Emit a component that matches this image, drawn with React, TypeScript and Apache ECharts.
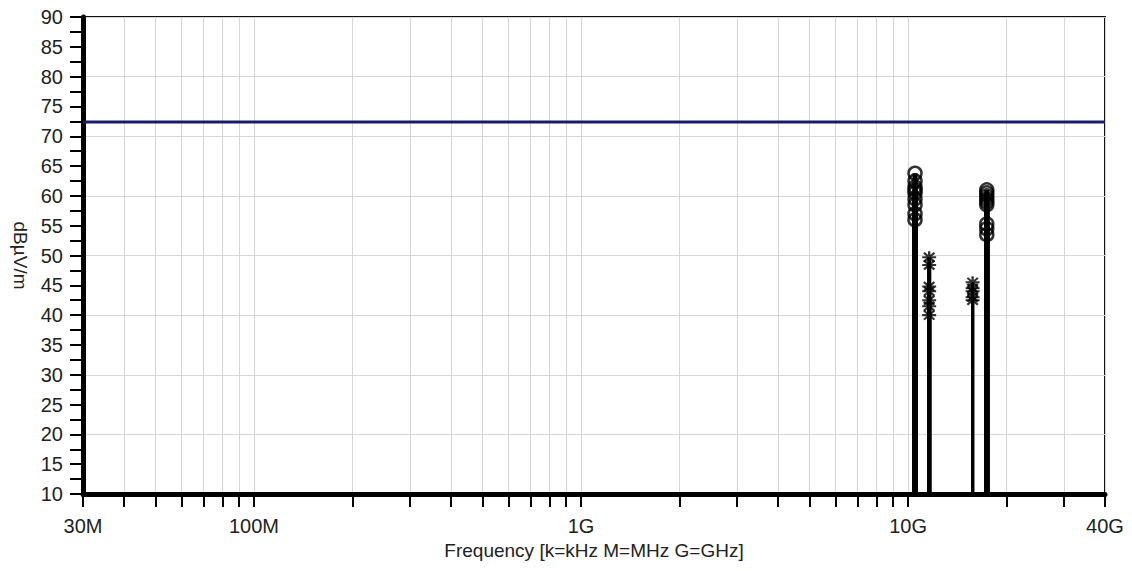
import React, { useEffect, useRef } from "react";
import * as echarts from "echarts";

// Frequency axis limits in Hz
const freqMinHz = 30e6;
const freqMaxHz = 40e9;

// Level axis limits in dBµV/m
const levelMin = 10;
const levelMax = 90;

// Frequencies that carry a tick label on the frequency axis (Hz)
const freqLabelHz = [30e6, 100e6, 1e9, 10e9, 40e9];

// Limit line
const limitFreqHz = [30e6, 40e9];
const limitLevel = [72.4, 72.4];

// Emissions drawn with circle markers (GHz, dBµV/m)
const circleFreqGHz = [10.5, 17.4];
const circleLevels = [
  [63.8, 62.5, 61.5, 61, 60.5, 59.5, 58.5, 57, 56],
  [61, 60.5, 60, 59.5, 59, 58.5, 55.3, 54.5, 53.5],
];

// Emissions drawn with asterisk markers (GHz, dBµV/m)
const starFreqGHz = [11.6, 15.75];
const starLevels = [
  [49.7, 48.4, 44.8, 44, 42.5, 41.5, 40],
  [45.5, 44.5, 44, 43, 42.5],
];

// Stem line widths, one per emission
const circleStemWidth = [5, 5];
const starStemWidth = [4, 3];

const FONT = "'Liberation Sans', Arial, sans-serif";

const ASTERISK =
  "path://M0 10L24 10L24 14L0 14Z" +
  "M10 0L14 0L14 24L10 24Z" +
  "M4.4 1.6L22.4 19.6L19.6 22.4L1.6 4.4Z" +
  "M19.6 1.6L22.4 4.4L4.4 22.4L1.6 19.6Z";

function fmtFreq(hz: number): string {
  if (hz >= 1e9 - 1) return `${Math.round(hz / 1e9)}G`;
  if (hz >= 1e6 - 1) return `${Math.round(hz / 1e6)}M`;
  if (hz >= 1e3 - 1) return `${Math.round(hz / 1e3)}k`;
  return `${Math.round(hz)}`;
}

// Decade sub-divisions (1..9 × 10^n) inside the frequency range
function decadeTicks(): number[] {
  const out: number[] = [];
  for (let n = 7; n <= 10; n++) {
    for (let k = 1; k <= 9; k++) {
      const f = k * Math.pow(10, n);
      if (f >= freqMinHz && f <= freqMaxHz) out.push(Math.log10(f));
    }
  }
  return out;
}

function points(fGHz: number, levels: number[]): number[][] {
  return levels.map((v) => [Math.log10(fGHz * 1e9), v]);
}

function stemSeries(data: number[][], width: number) {
  return {
    type: "custom",
    clip: true,
    z: 3,
    data,
    renderItem: (_params: any, api: any) => {
      const x = api.value(0);
      const y = api.value(1);
      const top = api.coord([x, y]);
      const base = api.coord([x, levelMin]);
      return {
        type: "line",
        shape: { x1: top[0], y1: top[1], x2: base[0], y2: base[1] },
        style: { stroke: "#000", lineWidth: width },
      };
    },
  };
}

export default function App() {
  const ref = useRef<HTMLDivElement>(null);

  useEffect(() => {
    if (!ref.current) return;
    const chart = echarts.init(ref.current, undefined, { renderer: "svg" });

    const circleGroups = circleFreqGHz.map((f, i) => points(f, circleLevels[i]));
    const starGroups = starFreqGHz.map((f, i) => points(f, starLevels[i]));

    chart.setOption({
      animation: false,
      backgroundColor: "#fff",
      grid: {
        left: 83,
        right: 27,
        top: 17,
        bottom: 77,
        show: true,
        borderColor: "#111",
        borderWidth: 2,
        backgroundColor: "#fff",
      },
      xAxis: {
        type: "value",
        min: Math.log10(freqMinHz),
        max: Math.log10(freqMaxHz),
        name: "Frequency [k=kHz M=MHz G=GHz]",
        nameLocation: "middle",
        nameGap: 44,
        nameTextStyle: { fontFamily: FONT, fontSize: 19, color: "#222" },
        axisLine: { show: true, onZero: false, lineStyle: { color: "#000", width: 5 } },
        axisTick: {
          show: true,
          length: 13,
          lineStyle: { color: "#000", width: 2 },
          customValues: decadeTicks(),
        },
        axisLabel: {
          customValues: freqLabelHz.map((f) => Math.log10(f)),
          formatter: (v: number) => fmtFreq(Math.pow(10, v)),
          fontFamily: FONT,
          fontSize: 20,
          color: "#222",
          margin: 22,
          showMinLabel: true,
          showMaxLabel: true,
        },
        splitLine: { show: true, lineStyle: { color: "#d6d6d6", width: 1 } },
      },
      yAxis: [
        {
          type: "value",
          min: levelMin,
          max: levelMax,
          interval: 5,
          position: "left",
          name: "dBµV/m",
          nameLocation: "middle",
          nameGap: 47,
          nameRotate: -90,
          nameTextStyle: { fontFamily: FONT, fontSize: 19, color: "#222" },
          axisLine: { show: true, onZero: false, lineStyle: { color: "#000", width: 5 } },
          axisTick: { show: true, length: 13, lineStyle: { color: "#000", width: 2 } },
          minorTick: {
            show: true,
            splitNumber: 2,
            length: 13,
            lineStyle: { color: "#000", width: 2 },
          },
          axisLabel: { fontFamily: FONT, fontSize: 20, color: "#222", margin: 20 },
          splitLine: { show: false },
        },
        {
          type: "value",
          min: levelMin,
          max: levelMax,
          interval: 10,
          position: "left",
          axisLine: { show: false },
          axisTick: { show: false },
          axisLabel: { show: false },
          splitLine: { show: true, lineStyle: { color: "#d6d6d6", width: 1 } },
        },
      ],
      series: [
        {
          type: "line",
          data: limitFreqHz.map((f, i) => [Math.log10(f), limitLevel[i]]),
          symbol: "none",
          lineStyle: { color: "#1b1a6b", width: 3 },
          z: 2,
        },
        ...circleGroups.map((d, i) => stemSeries(d, circleStemWidth[i])),
        ...starGroups.map((d, i) => stemSeries(d, starStemWidth[i])),
        {
          type: "scatter",
          data: circleGroups.flat(),
          symbol: "circle",
          symbolSize: 13,
          itemStyle: { color: "none", borderColor: "#000", borderWidth: 2.5 },
          z: 4,
        },
        {
          type: "scatter",
          data: starGroups.flat(),
          symbol: ASTERISK,
          symbolSize: [14, 12],
          itemStyle: { color: "#000" },
          z: 4,
        },
      ],
    });

    return () => chart.dispose();
  }, []);

  return (
    <div
      ref={ref}
      style={{ position: "fixed", left: 0, top: 0, width: 1132, height: 571 }}
    />
  );
}
